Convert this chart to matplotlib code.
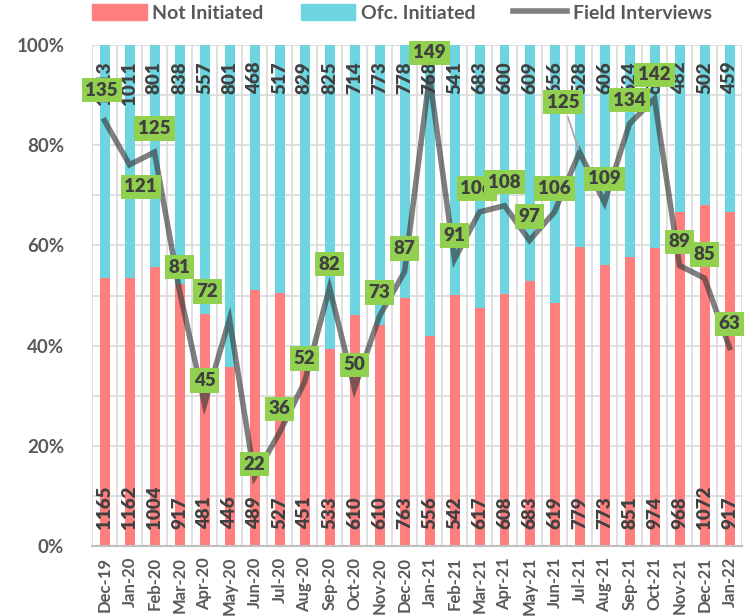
import matplotlib
matplotlib.use("Agg")
import matplotlib.pyplot as plt
import numpy as np
from matplotlib.patches import Patch
from matplotlib.lines import Line2D

plt.rcParams['font.family'] = ['Lato', 'DejaVu Sans']

months = ["Dec-19", "Jan-20", "Feb-20", "Mar-20", "Apr-20", "May-20", "Jun-20", "Jul-20",
          "Aug-20", "Sep-20", "Oct-20", "Nov-20", "Dec-20", "Jan-21", "Feb-21", "Mar-21",
          "Apr-21", "May-21", "Jun-21", "Jul-21", "Aug-21", "Sep-21", "Oct-21", "Nov-21",
          "Dec-21", "Jan-22"]
not_initiated = [1165, 1162, 1004, 917, 481, 446, 489, 527, 451, 533, 610, 610, 763, 556,
                 542, 617, 608, 683, 619, 779, 773, 851, 974, 968, 1072, 917]
ofc_initiated = [1013, 1011, 801, 838, 557, 801, 468, 517, 829, 825, 714, 773, 778, 768,
                 541, 683, 600, 609, 656, 528, 606, 624, 663, 482, 502, 459]
field_interviews = [135, 121, 125, 81, 45, 72, 22, 36, 52, 82, 50, 73, 87, 149, 91, 106,
                    108, 97, 106, 125, 109, 134, 142, 89, 85, 63]

RED = "#FF7F7F"
CYAN = "#6DD5E0"
LINE = "#3A3A3A"
GREEN = "#92D050"
TXT = "#404040"
TICK = "#595959"
W = 'heavy'

ni = np.array(not_initiated, float)
oi = np.array(ofc_initiated, float)
tot = ni + oi
ni_p = ni / tot
oi_p = oi / tot
x = np.arange(len(months))

fig = plt.figure(figsize=(7.55, 6.16), dpi=100)
ax = fig.add_axes([92/755, 70/616, (742-92)/755, (546-45)/616])

ax.bar(x, ni_p, width=0.4, color=RED, zorder=2)
ax.bar(x, oi_p, width=0.4, bottom=ni_p, color=CYAN, zorder=2)

ax.set_xlim(-0.5, len(months) - 0.5)
ax.set_ylim(0, 1)
ax.set_yticks(np.arange(0, 1.01, 0.2))
ax.set_yticklabels([f"{int(round(v*100))}%" for v in np.arange(0, 1.01, 0.2)],
                   fontsize=13.5, fontweight='bold', color=TICK)
ax.set_xticks(x)
ax.set_xticklabels(months, rotation=90, fontsize=12, fontweight='bold', color=TICK)
ax.tick_params(axis='both', which='both', length=0)
ax.tick_params(axis='y', pad=20)
ax.tick_params(axis='x', pad=8)
ax.grid(False)
for v in np.arange(0.1, 1.01, 0.1):
    ax.axhline(v, color="#D9D9D9", lw=1.2, zorder=1)
for v in np.arange(-0.5, len(months), 1):
    ax.axvline(v, color="#D9D9D9", lw=1.2, zorder=1)
for s in ['top', 'right', 'left']:
    ax.spines[s].set_visible(False)
ax.spines['bottom'].set_color("#BFBFBF")
ax.spines['bottom'].set_linewidth(1.5)

for i in range(len(months)):
    ax.annotate(f"{not_initiated[i]}", (x[i], 0), xytext=(0, 12), textcoords='offset points',
                rotation=90, ha='center', va='bottom', fontsize=13.5, fontweight=W,
                color=TXT, zorder=4)
    ax.annotate(f"{ofc_initiated[i]}", (x[i], 1), xytext=(0, -12), textcoords='offset points',
                rotation=90, ha='center', va='top', fontsize=13.5, fontweight=W,
                color=TXT, zorder=4)

ax2 = ax.twinx()
ax2.set_ylim(0, 159)
ax2.axis('off')
ax2.plot(x, field_interviews, color=LINE, lw=4, alpha=0.65, zorder=5, solid_joinstyle='miter')

offsets = {0: (-2, 22), 1: (8, -16), 5: (-16, 20), 6: (0, 9), 15: (-2, 17), 19: (-12, 36)}
for i, v in enumerate(field_interviews):
    dx, dy = offsets.get(i, (0, 17))
    if i == 19:
        ax2.annotate("", (x[i], v), xytext=(x[i] - 0.5, v + 12),
                     arrowprops=dict(arrowstyle='-', color='#A6A6A6', lw=1.2), zorder=5)
    ax2.annotate(f"{v}", (x[i], v), xytext=(dx, dy), textcoords='offset points',
                 ha='center', va='center', fontsize=13.5, fontweight=W, color=TXT,
                 bbox=dict(boxstyle='square,pad=0.2', fc=GREEN, ec='none'), zorder=6)

handles = [Patch(color=RED), Patch(color=CYAN), Line2D([0], [0], color="#7F7F7F", lw=4)]
fig.legend(handles, ["Not Initiated", "Ofc. Initiated", "Field Interviews"],
           loc='center', bbox_to_anchor=(402/755, 1 - 13/616), ncol=3, frameon=False,
           prop=dict(size=14, weight='bold'), labelcolor=TICK, handlelength=2.8,
           handleheight=0.9, columnspacing=1.9, handletextpad=0.3)

fig.savefig("out.png", dpi=100)
